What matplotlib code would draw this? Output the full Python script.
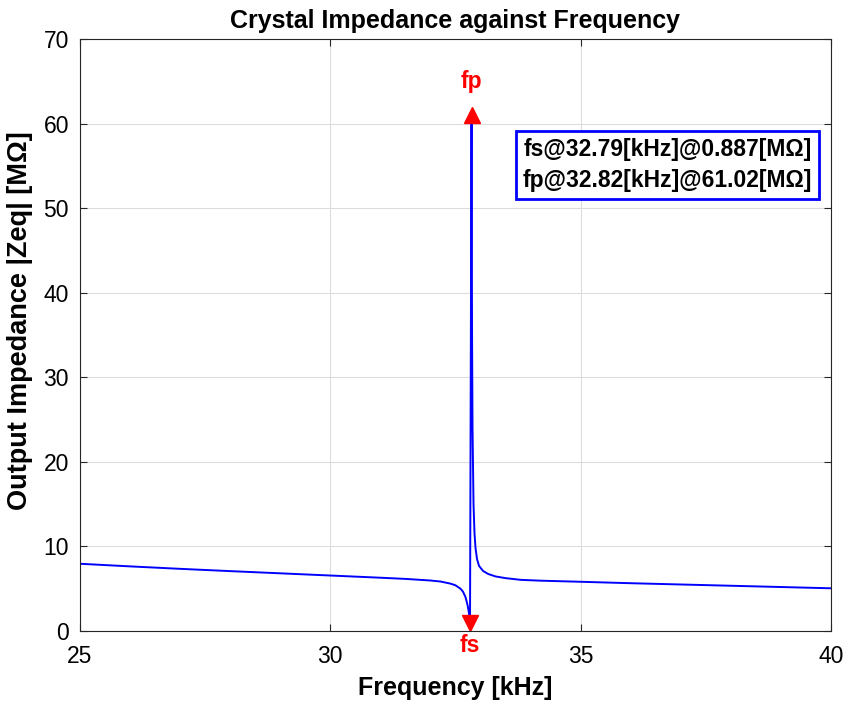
import numpy as np
import matplotlib.pyplot as plt

plt.rcParams['font.family'] = ['Liberation Sans', 'DejaVu Sans']

# frequency [kHz] and |Zeq| [MOhm]
freq = [25, 26, 27, 28, 29, 30, 31, 31.5, 32, 32.2, 32.4, 32.5, 32.6, 32.65,
        32.7, 32.74, 32.77, 32.79, 32.82, 32.83, 32.84, 32.86, 32.88, 32.9,
        32.93, 32.97, 33.05, 33.15, 33.3, 33.5, 33.8, 34.2, 35, 36, 37, 38,
        39, 40]
zeq = [7.95, 7.64, 7.35, 7.08, 6.82, 6.56, 6.30, 6.16, 5.97, 5.85, 5.6, 5.4,
       5.0, 4.65, 4.0, 3.1, 2.1, 0.887, 61.02, 36, 24, 15, 11.5, 9.8,
       8.5, 7.7, 7.1, 6.75, 6.45, 6.25, 6.05, 5.95, 5.82, 5.65, 5.5, 5.35,
       5.2, 5.05]

fs, zs = 32.79, 0.887
fp, zp = 32.82, 61.02

xticks = [25, 30, 35, 40]
yticks = [0, 10, 20, 30, 40, 50, 60, 70]

fig = plt.figure(figsize=(8.45, 7.04), dpi=100)
ax = fig.add_axes([0.0947, 0.1037, 0.8887, 0.8409])

ax.plot(freq, zeq, color='blue', lw=1.4)
ax.plot([fp], [zp], marker='^', color='red', ms=11, ls='none', clip_on=False)
ax.plot([fs], [zs], marker='v', color='red', ms=11, ls='none', clip_on=False)
ax.annotate('fp', (fp, zp), xytext=(0, 24), textcoords='offset points',
            ha='center', va='center', color='red', fontsize=16.5, fontweight='bold')
ax.annotate('fs', (fs, zs), xytext=(0, -16), textcoords='offset points',
            ha='center', va='center', color='red', fontsize=16.5,
            fontweight='bold', annotation_clip=False)

txt = f'fs@{fs:.2f}[kHz]@{zs:.3f}[MΩ]\nfp@{fp:.2f}[kHz]@{zp:.2f}[MΩ]'
ax.text(0.782, 0.787, txt, transform=ax.transAxes, ha='center', va='center',
        fontsize=16.5, fontweight='bold', linespacing=1.45,
        bbox=dict(boxstyle='square,pad=0.3', fc='white', ec='blue', lw=2))

ax.set_xlim(25, 40)
ax.set_ylim(0, 70)
ax.set_xticks(xticks)
ax.set_yticks(yticks)
ax.tick_params(direction='in', labelsize=16.5, color='#262626', length=5,
               top=True, right=True)
ax.tick_params(axis='x', pad=10)
ax.tick_params(axis='y', pad=8)
ax.grid(True, color='#dcdcdc', lw=0.8)
ax.set_axisbelow(True)
for s in ax.spines.values():
    s.set_color('#262626')
    s.set_linewidth(0.8)

ax.set_title('Crystal Impedance against Frequency', fontsize=18,
             fontweight='bold', pad=8)
ax.set_xlabel('Frequency [kHz]', fontsize=18, fontweight='bold', labelpad=6)
ax.set_ylabel('Output Impedance |Zeq| [MΩ]', fontsize=19.5, fontweight='bold')
ax.yaxis.set_label_coords(-0.063, 0.524)

fig.savefig('out.png', dpi=100)
